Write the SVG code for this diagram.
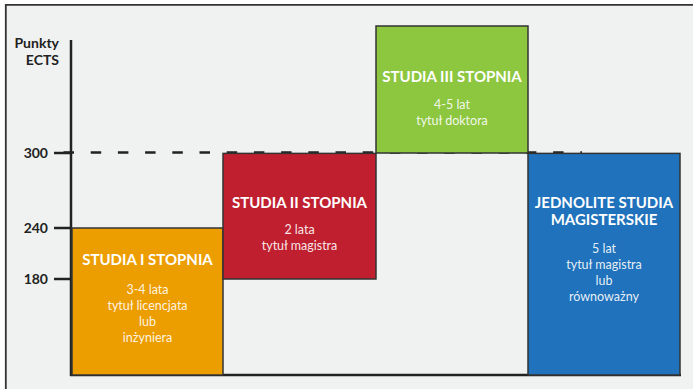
<svg xmlns="http://www.w3.org/2000/svg" width="693" height="389" viewBox="0 0 693 389">
  <style>
    .axis { stroke: #222; stroke-width: 2.5; fill: none; }
    .box { stroke: #333; stroke-width: 1.5; }
    .lbl { font-family: Lato, "Open Sans", sans-serif; font-weight: 700; font-size: 14px; fill: #222; text-anchor: end; }
    .title { font-family: Lato, "Open Sans", sans-serif; font-weight: 700; font-size: 15px; fill: #fff; text-anchor: middle; }
    .sub { font-family: Lato, "Open Sans", sans-serif; font-weight: 400; font-size: 12.5px; fill: #fff; fill-opacity: 0.9; text-anchor: middle; }
  </style>
  <rect x="0" y="0" width="693" height="389" fill="#ffffff"/>
  <rect x="5.8" y="4.8" width="700" height="400" fill="#f0f2f1"/>
  <path d="M5.8,400 V4.8 H693" stroke="#333" stroke-width="1.8" fill="none"/>

  <g id="axis-labels">
    <text class="lbl" x="59" y="48">Punkty</text>
    <text class="lbl" x="59" y="65">ECTS</text>
    <text class="lbl" x="48" y="158">300</text>
    <text class="lbl" x="48" y="233">240</text>
    <text class="lbl" x="48" y="284">180</text>
  </g>

  <g id="connectors">
    <line class="axis" x1="71" y1="40" x2="71" y2="376"/>
    <line class="axis" x1="70" y1="375" x2="681" y2="375"/>
    <line class="axis" x1="54" y1="153" x2="71" y2="153"/>
    <line class="axis" x1="54" y1="228" x2="72" y2="228"/>
    <line class="axis" x1="54" y1="279" x2="72" y2="279"/>
    <line class="axis" x1="63.5" y1="152.6" x2="582" y2="152.6" stroke-dasharray="10.5 16.7"/>
  </g>

  <g id="studia-i">
    <rect class="box" x="72" y="228" width="151" height="147" fill="#ec9d00"/>
    <text class="title" x="147.5" y="265">STUDIA I STOPNIA</text>
    <text class="sub" x="147.5" y="294">3-4 lata</text>
    <text class="sub" x="147.5" y="310">tytuł licencjata</text>
    <text class="sub" x="147.5" y="326">lub</text>
    <text class="sub" x="147.5" y="342">inżyniera</text>
  </g>

  <g id="studia-ii">
    <rect class="box" x="223" y="153.4" width="153" height="125.6" fill="#c01f30"/>
    <text class="title" x="299.5" y="208">STUDIA II STOPNIA</text>
    <text class="sub" x="299.5" y="234">2 lata</text>
    <text class="sub" x="299.5" y="250">tytuł magistra</text>
  </g>

  <g id="studia-iii">
    <rect class="box" x="376" y="26" width="152" height="127" fill="#8dc63f"/>
    <text class="title" x="452" y="82">STUDIA III STOPNIA</text>
    <text class="sub" x="452" y="109">4-5 lat</text>
    <text class="sub" x="452" y="125">tytuł doktora</text>
  </g>

  <g id="jednolite">
    <rect class="box" x="528" y="153.4" width="152" height="221.6" fill="#1f72bb"/>
    <text class="title" x="604" y="208">JEDNOLITE STUDIA</text>
    <text class="title" x="604" y="225">MAGISTERSKIE</text>
    <text class="sub" x="604" y="253">5 lat</text>
    <text class="sub" x="604" y="269">tytuł magistra</text>
    <text class="sub" x="604" y="285">lub</text>
    <text class="sub" x="604" y="301">równoważny</text>
  </g>
</svg>
